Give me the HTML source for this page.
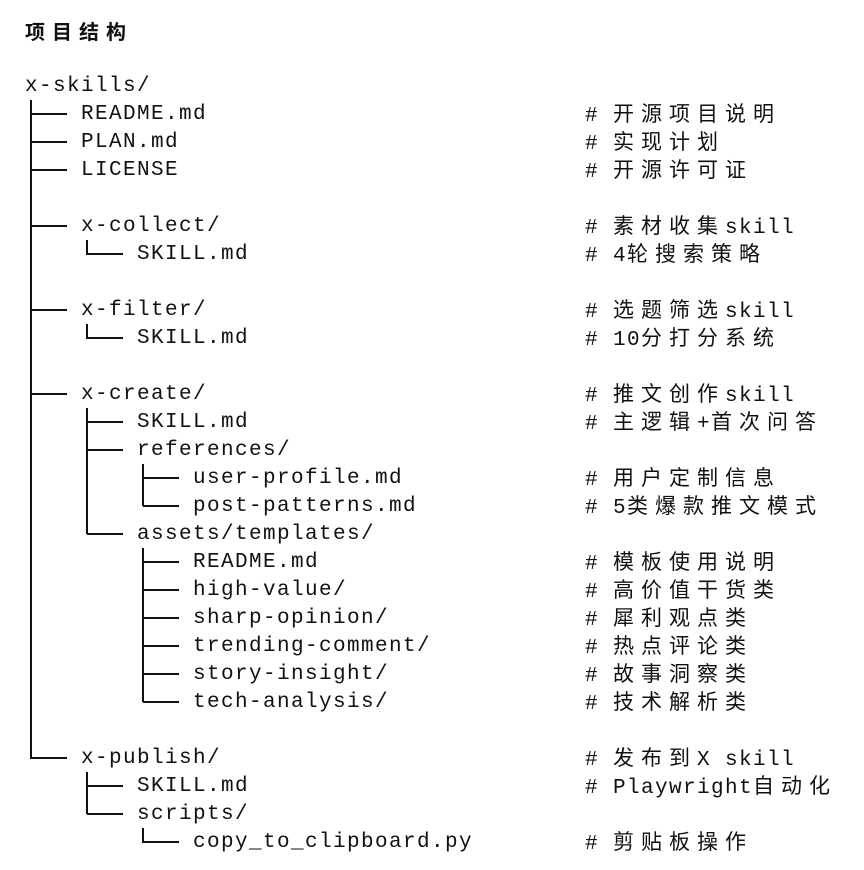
<!DOCTYPE html>
<html><head><meta charset="utf-8"><style>
html,body{margin:0;padding:0;background:#fff;}
body{width:864px;height:870px;position:relative;overflow:hidden;font-family:"Liberation Mono","Noto Sans CJK SC",monospace;color:#111;}
.r{position:absolute;font-size:21px;letter-spacing:1.4px;line-height:28px;white-space:pre;}
.c{letter-spacing:7px;font-family:"Liberation Sans","Noto Sans CJK SC",sans-serif;}
.t{position:absolute;left:25px;top:17px;font-size:20px;font-weight:bold;letter-spacing:7px;font-family:"Noto Sans CJK SC",sans-serif;line-height:28px;}
</style></head><body>
<div class="t">项目结构</div>
<svg width="864" height="870" style="position:absolute;left:0;top:0" stroke="#111" stroke-width="2" fill="none">
<path d="M31 100V759 M31 114H67 M31 142H67 M31 170H67 M31 226H67 M31 310H67 M31 394H67 M31 758H67"/>
<path d="M87 240V254H123 M87 324V338H123"/>
<path d="M87 408V534 M87 422H123 M87 450H123 M87 534H123"/>
<path d="M143 464V506 M143 478H179 M143 506H179"/>
<path d="M143 548V702 M143 562H179 M143 590H179 M143 618H179 M143 646H179 M143 674H179 M143 702H179"/>
<path d="M87 772V814 M87 786H123 M87 814H123"/>
<path d="M143 828V842H179"/>
</svg>
<div class="r" style="left:25px;top:73px">x-skills/</div>
<div class="r" style="left:81px;top:101px">README.md</div>
<div class="r" style="left:81px;top:129px">PLAN.md</div>
<div class="r" style="left:81px;top:157px">LICENSE</div>
<div class="r" style="left:81px;top:213px">x-collect/</div>
<div class="r" style="left:137px;top:241px">SKILL.md</div>
<div class="r" style="left:81px;top:297px">x-filter/</div>
<div class="r" style="left:137px;top:325px">SKILL.md</div>
<div class="r" style="left:81px;top:381px">x-create/</div>
<div class="r" style="left:137px;top:409px">SKILL.md</div>
<div class="r" style="left:137px;top:437px">references/</div>
<div class="r" style="left:193px;top:465px">user-profile.md</div>
<div class="r" style="left:193px;top:493px">post-patterns.md</div>
<div class="r" style="left:137px;top:521px">assets/templates/</div>
<div class="r" style="left:193px;top:549px">README.md</div>
<div class="r" style="left:193px;top:577px">high-value/</div>
<div class="r" style="left:193px;top:605px">sharp-opinion/</div>
<div class="r" style="left:193px;top:633px">trending-comment/</div>
<div class="r" style="left:193px;top:661px">story-insight/</div>
<div class="r" style="left:193px;top:689px">tech-analysis/</div>
<div class="r" style="left:81px;top:745px">x-publish/</div>
<div class="r" style="left:137px;top:773px">SKILL.md</div>
<div class="r" style="left:137px;top:801px">scripts/</div>
<div class="r" style="left:193px;top:829px">copy_to_clipboard.py</div>

<div class="r" style="left:585px;top:101px"># <span class="c">开源项目说明</span></div>
<div class="r" style="left:585px;top:129px"># <span class="c">实现计划</span></div>
<div class="r" style="left:585px;top:157px"># <span class="c">开源许可证</span></div>
<div class="r" style="left:585px;top:213px"># <span class="c">素材收集</span>skill</div>
<div class="r" style="left:585px;top:241px"># 4<span class="c">轮搜索策略</span></div>
<div class="r" style="left:585px;top:297px"># <span class="c">选题筛选</span>skill</div>
<div class="r" style="left:585px;top:325px"># 10<span class="c">分打分系统</span></div>
<div class="r" style="left:585px;top:381px"># <span class="c">推文创作</span>skill</div>
<div class="r" style="left:585px;top:409px"># <span class="c">主逻辑</span>+<span class="c">首次问答</span></div>
<div class="r" style="left:585px;top:465px"># <span class="c">用户定制信息</span></div>
<div class="r" style="left:585px;top:493px"># 5<span class="c">类爆款推文模式</span></div>
<div class="r" style="left:585px;top:549px"># <span class="c">模板使用说明</span></div>
<div class="r" style="left:585px;top:577px"># <span class="c">高价值干货类</span></div>
<div class="r" style="left:585px;top:605px"># <span class="c">犀利观点类</span></div>
<div class="r" style="left:585px;top:633px"># <span class="c">热点评论类</span></div>
<div class="r" style="left:585px;top:661px"># <span class="c">故事洞察类</span></div>
<div class="r" style="left:585px;top:689px"># <span class="c">技术解析类</span></div>
<div class="r" style="left:585px;top:745px"># <span class="c">发布到</span>X skill</div>
<div class="r" style="left:585px;top:773px"># Playwright<span class="c">自动化</span></div>
<div class="r" style="left:585px;top:829px"># <span class="c">剪贴板操作</span></div>
</body></html>
